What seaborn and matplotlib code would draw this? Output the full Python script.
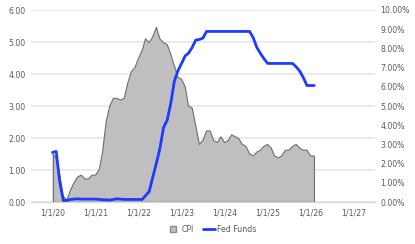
import matplotlib
matplotlib.use("Agg")
import matplotlib.pyplot as plt
import matplotlib.dates as mdates
from matplotlib.lines import Line2D
from matplotlib.ticker import FixedLocator, FuncFormatter
import seaborn as sns
import pandas as pd
import numpy as np

# ---- data (monthly, Jan 2020 - Feb 2026) ----
months = pd.date_range("2020-01-01", "2026-02-01", freq="MS")
cpi = [2.5, 2.3, 1.5, 0.3, 0.1, 0.6, 1.0, 1.3, 1.4, 1.2, 1.2, 1.4,
       1.4, 1.7, 2.6, 4.2, 5.0, 5.4, 5.4, 5.3, 5.4, 6.2, 6.8, 7.0,
       7.5, 7.9, 8.5, 8.3, 8.6, 9.1, 8.5, 8.3, 8.2, 7.7, 7.1, 6.5,
       6.4, 6.0, 5.0, 4.9, 4.0, 3.0, 3.2, 3.7, 3.7, 3.2, 3.1, 3.4,
       3.1, 3.2, 3.5, 3.4, 3.3, 3.0, 2.9, 2.5, 2.4, 2.6, 2.7, 2.9,
       3.0, 2.8, 2.4, 2.3, 2.4, 2.7, 2.7, 2.9, 3.0, 2.8, 2.7, 2.7,
       2.4, 2.4]
fed_funds = [1.55, 1.58, 0.65, 0.05, 0.05, 0.08, 0.09, 0.10, 0.09, 0.09, 0.09, 0.09,
             0.09, 0.08, 0.07, 0.07, 0.06, 0.08, 0.10, 0.09, 0.08, 0.08, 0.08, 0.08,
             0.08, 0.08, 0.20, 0.33, 0.77, 1.21, 1.68, 2.33, 2.56, 3.08, 3.78, 4.10,
             4.33, 4.57, 4.65, 4.83, 5.06, 5.08, 5.12, 5.33, 5.33, 5.33, 5.33, 5.33,
             5.33, 5.33, 5.33, 5.33, 5.33, 5.33, 5.33, 5.33, 5.13, 4.83, 4.64, 4.48,
             4.33, 4.33, 4.33, 4.33, 4.33, 4.33, 4.33, 4.33, 4.22, 4.09, 3.88, 3.64,
             3.64, 3.64]
left_ticks = [0, 1, 2, 3, 4, 5, 6]
right_ticks = [0, 1, 2, 3, 4, 5, 6, 7, 8, 9, 10]
year_labels = ["1/1/20", "1/1/21", "1/1/22", "1/1/23", "1/1/24", "1/1/25", "1/1/26", "1/1/27"]
label_dates = pd.to_datetime(["2020-01-01", "2021-01-01", "2022-01-01", "2023-01-01",
                              "2024-01-01", "2025-01-01", "2026-01-01", "2027-01-01"])

df = pd.DataFrame({"date": months, "CPI": cpi, "Fed Funds": fed_funds})

# ---- style ----
sns.set_style("white")
plt.rcParams["font.family"] = ["DejaVu Sans"]
txt = "#595959"
grid_c = "#ebebeb"
area_fc = "#bfbfc1"
area_ec = "#6f6f6f"
blue = "#1b3cff"

W, H = 415, 244
fig = plt.figure(figsize=(W / 100, H / 100), dpi=100)
L, R, T, B = 31, 375, 10, 202
ax = fig.add_axes([L / W, 1 - B / H, (R - L) / W, (B - T) / H])
ax2 = ax.twinx()   # CPI on right scale
ax3 = ax.twinx()   # Fed funds on left scale, drawn on top

xmin = pd.Timestamp("2019-07-02")
xmax = pd.Timestamp("2027-07-02")

# grid (left scale)
ax.set_ylim(0, 6)
ax.set_yticks(left_ticks)
ax.yaxis.set_major_formatter(FuncFormatter(lambda v, p: f"{v:.2f}"))
ax.grid(axis="y", color=grid_c, linewidth=1.5)
ax.grid(axis="x", visible=False)

# CPI area (right scale)
ax2.fill_between(df["date"], 0, df["CPI"], facecolor=area_fc, edgecolor="none", zorder=2)
ax2.plot(df["date"], df["CPI"], color=area_ec, linewidth=0.8, zorder=3)
ax2.plot([df["date"].iloc[0]] * 2, [0, df["CPI"].iloc[0]], color=area_ec, linewidth=0.8, zorder=3)
ax2.plot([df["date"].iloc[-1]] * 2, [0, df["CPI"].iloc[-1]], color=area_ec, linewidth=0.8, zorder=3)
ax2.plot([df["date"].iloc[0], df["date"].iloc[-1]], [0, 0], color=area_ec, linewidth=1.0, zorder=3)
ax2.set_ylim(0, 10)
ax2.set_yticks(right_ticks)
ax2.yaxis.set_major_formatter(FuncFormatter(lambda v, p: f"{v:.2f}%"))

# Fed funds line (left scale)
sns.lineplot(data=df, x="date", y="Fed Funds", ax=ax3, color=blue, linewidth=2.0, legend=False)
ax3.set_ylim(0, 6)
ax3.set_yticks([])
ax3.set_ylabel("")
ax3.set_xlabel("")

for a in (ax, ax2, ax3):
    a.set_xlim(xmin, xmax)
    for s in a.spines.values():
        s.set_visible(False)
    a.patch.set_visible(False)

ax.spines["bottom"].set_visible(True)
ax.spines["bottom"].set_color("#d9d9d9")
ax.spines["bottom"].set_linewidth(1.0)

ax.set_xticks(label_dates)
ax.set_xticklabels(year_labels)
ax.xaxis.set_minor_locator(FixedLocator(mdates.date2num(pd.date_range("2019-07-02", "2027-07-02", freq="12MS") + pd.Timedelta(days=1))))
ax.tick_params(axis="x", which="major", length=0, pad=5, labelsize=5.6, labelcolor=txt)
ax.tick_params(axis="x", which="minor", length=3, color="#d9d9d9", width=0.8, direction="out")
ax.tick_params(axis="y", length=0, pad=4, labelsize=5.6, labelcolor=txt)
ax2.tick_params(axis="y", length=0, pad=4, labelsize=5.6, labelcolor=txt)
ax.set_xlabel("")
ax.set_ylabel("")
ax2.set_ylabel("")

handles = [Line2D([], [], marker="s", markersize=5, markerfacecolor=area_fc,
                  markeredgecolor="#8a8a9a", linestyle="none", label="CPI"),
           Line2D([], [], color=blue, linewidth=2.0, label="Fed Funds")]
fig.legend(handles=handles, loc="center", bbox_to_anchor=(212 / W, 1 - 229 / H), ncol=2,
           frameon=False, fontsize=5.6, labelcolor=txt, handlelength=1.5,
           handletextpad=0.3, columnspacing=1.2)

fig.savefig("out.png", dpi=100)
